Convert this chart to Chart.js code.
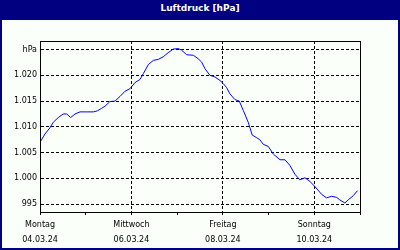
<!DOCTYPE html>
<html>
<head>
<meta charset="utf-8">
<script src="https://cdn.jsdelivr.net/npm/chart.js@4/dist/chart.umd.min.js"></script>
<style>
  body { margin: 0; background: #fafffa; }
  #wrap { position: relative; width: 400px; height: 250px; overflow: hidden; }
  #frame { position: absolute; left: 0; top: 0; width: 400px; height: 250px; box-sizing: border-box;
           border: 2px solid #000080; border-top: none; pointer-events: none; }
  #head { position: absolute; left: 0; top: 0; width: 400px; height: 20px; background: #000080;
          color: #fff; font: bold 9px "DejaVu Sans"; line-height: 17px; text-align: center; }
  canvas { position: absolute; left: 0; top: 0; }
</style>
</head>
<body>
<div id="wrap">
  <canvas id="chart" width="400" height="250"></canvas>
  <div id="head">Luftdruck [hPa]</div>
  <div id="frame"></div>
</div>
<script>
"use strict";

// Data (hours since Montag 04.03.24 00:00)
const hours = [0, 2.6, 5.2, 7, 9.6, 12.2, 14, 16.1, 18.4, 21, 24.5, 28, 30.1, 32.4, 34.1, 36.7, 39.4, 42, 44.6, 47.2,
  49.9, 52.5, 54.2, 56.9, 59.5, 62.1, 64.7, 67.3, 70, 72.6, 74.3, 77, 80.5, 83.1, 84.8, 86.6, 89.2, 91.8, 94.5, 96.2,
  98, 99.7, 102.3, 104.6, 106.7, 109.3, 111.4, 113.7, 115.4, 117.2, 119.8, 122.5, 126, 128.6, 131.2, 133.8, 136.4,
  139.1, 141.7, 144.3, 147.8, 150.4, 153.1, 155.7, 157.4, 160.1, 161.8, 164.4, 166.7];
const pressure = [1007.0, 1008.6, 1009.8, 1010.9, 1011.8, 1012.5, 1012.5, 1011.8, 1012.5, 1012.9, 1012.9, 1012.9,
  1013.1, 1013.6, 1014.0, 1014.9, 1015.0, 1015.9, 1016.9, 1017.4, 1018.6, 1019.2, 1020.3, 1022.1, 1022.9, 1023.1,
  1023.6, 1024.4, 1025.1, 1025.2, 1024.9, 1024.0, 1023.9, 1023.2, 1022.6, 1021.3, 1020.0, 1019.7, 1019.0, 1018.4,
  1017.6, 1016.4, 1015.3, 1015.0, 1013.2, 1010.9, 1008.4, 1007.9, 1007.5, 1006.6, 1006.2, 1004.7, 1003.6, 1003.6,
  1002.5, 1000.8, 999.7, 1000.1, 999.4, 998.4, 996.9, 996.2, 996.5, 996.3, 995.8, 995.2, 995.8, 996.6, 997.6];

const dayNames = ["Montag", "Dienstag", "Mittwoch", "Donnerstag", "Freitag", "Samstag", "Sonntag", "Montag"];
const dayDates = ["04.03.24", "05.03.24", "06.03.24", "07.03.24", "08.03.24", "09.03.24", "10.03.24", "11.03.24"];
const yTicks = [995, 1000, 1005, 1010, 1015, 1020, 1025];
const yLabels = ["995", "1.000", "1.005", "1.010", "1.015", "1.020", "hPa"];

const tickFont = { family: "DejaVu Sans", size: 8 };

// box round the plot area
const plotBox = {
  id: "plotBox",
  afterDraw(chart) {
    const { ctx, chartArea: a } = chart;
    ctx.save();
    ctx.strokeStyle = "#000";
    ctx.lineWidth = 1;
    ctx.strokeRect(Math.round(a.left) + 0.5, Math.round(a.top) + 0.5,
      Math.round(a.right - a.left) , Math.round(a.bottom - a.top));
    ctx.restore();
  }
};

new Chart(document.getElementById("chart"), {
  type: "line",
  data: {
    datasets: [{
      data: hours.map((h, i) => ({ x: h, y: pressure[i] })),
      borderColor: "#0000ff",
      borderWidth: 1,
      pointRadius: 0,
      tension: 0,
      fill: false
    }]
  },
  options: {
    responsive: false,
    devicePixelRatio: 1,
    animation: false,
    layout: { padding: { top: 41, right: 40, left: 0, bottom: 0 } },
    plugins: { legend: { display: false }, tooltip: { enabled: false } },
    scales: {
      x: {
        type: "linear",
        min: 0,
        max: 168,
        afterFit: (s) => { s.height = 38; },
        border: { display: true, color: "#000", width: 1, dash: [3, 2] },
        grid: {
          color: (c) => (c.tick && c.tick.value % 48 === 0 && c.tick.value > 0 && c.tick.value < 168) ? "#000" : "rgba(0,0,0,0)",
          tickColor: "#000",
          tickLength: 3
        },
        ticks: {
          stepSize: 24,
          maxRotation: 0,
          autoSkip: false,
          padding: 2,
          color: "#000",
          font: { family: "DejaVu Sans", size: 8, lineHeight: "15px" },
          callback: (v) => {
            const d = v / 24;
            return (v % 48 === 0 && v < 168) ? [dayNames[d], dayDates[d]] : "";
          }
        }
      },
      y: {
        min: 993.45,
        max: 1026.67,
        afterFit: (s) => { s.width = 40; },
        afterBuildTicks: (s) => { s.ticks = yTicks.map(v => ({ value: v })); },
        border: { display: true, color: "#000", width: 1, dash: [3, 2] },
        grid: { color: "#000", drawTicks: false },
        ticks: {
          padding: 3,
          color: "#000",
          font: tickFont,
          callback: (v) => yLabels[yTicks.indexOf(v)]
        }
      }
    }
  },
  plugins: [plotBox]
});
</script>
</body>
</html>
